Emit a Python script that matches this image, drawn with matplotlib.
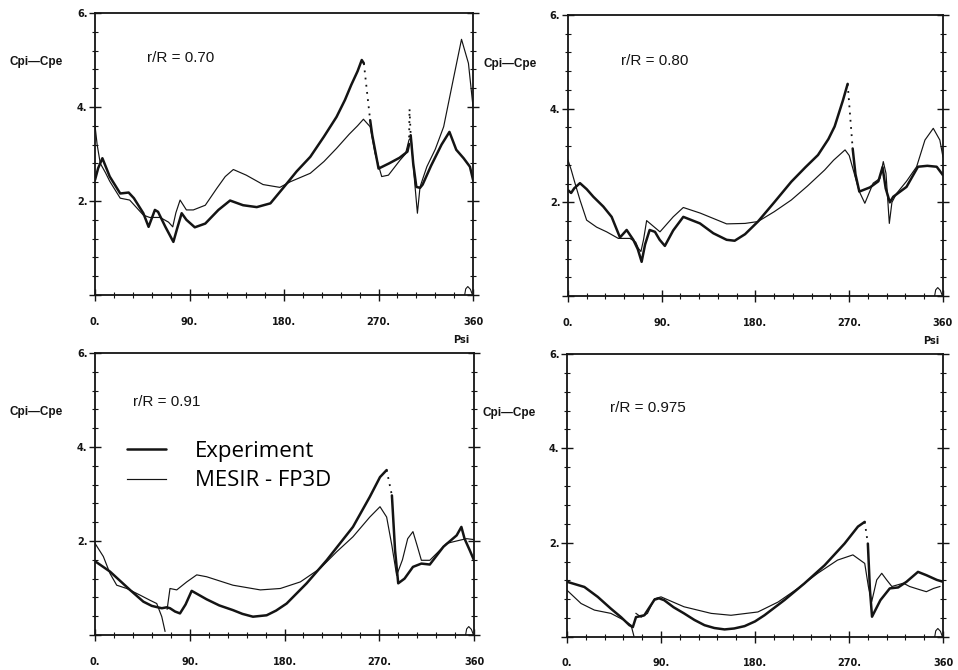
import numpy as np
import matplotlib
matplotlib.use('Agg')
import matplotlib.pyplot as plt
from matplotlib.ticker import MultipleLocator

INK = '#141414'

# ── Data (Psi in degrees, Cpi-Cpe) -- NaN marks a jump drawn dotted ──────────
EXP1_X = [0, 3, 7, 14, 24, 32, 37, 46, 51, 57, 60, 67, 74.6, 78, 82.5, 87, 95, 105, 117.5, 128.6,
          141, 154, 167, 180, 192, 205, 218, 230, 238, 244, 250, 254, 256, np.nan, 262, 264, 270,
          280, 290, 297.5, 299, np.nan, 299.5, np.nan, 300.6, 303, 306, 309.5, 312, 320, 330, 337.5,
          344, 351, 357, 360]
EXP1_Y = [2.45, 2.7, 2.91, 2.52, 2.16, 2.18, 2.06, 1.74, 1.45, 1.81, 1.77, 1.45, 1.13, 1.4, 1.74, 1.6,
          1.44, 1.52, 1.81, 2.01, 1.91, 1.87, 1.95, 2.3, 2.63, 2.94, 3.37, 3.79, 4.15, 4.47, 4.76, 5.0,
          4.93, np.nan, 3.72, 3.4, 2.69, 2.8, 2.92, 3.05, 3.2, np.nan, 3.95, np.nan, 3.4, 2.8, 2.3,
          2.28, 2.35, 2.75, 3.2, 3.47, 3.09, 2.91, 2.73, 2.45]
CAL1_X = [0, 2, 5, 10, 14, 24, 33, 46, 52, 62, 70, 74, 77, 81, 87, 93.6, 105, 116, 124, 131.7, 144,
          160, 176, 186, 205, 218, 230, 242, 250, 255.6, 262, 266.7, 273, 279.4, 290.5, 295.6, 299,
          301, 304, 307, 309.5, 316, 324, 332, 341, 349, 355.6, 360]
CAL1_Y = [3.6, 3.2, 2.8, 2.6, 2.42, 2.06, 2.02, 1.7, 1.65, 1.65, 1.55, 1.45, 1.75, 2.02, 1.81, 1.81,
          1.91, 2.27, 2.52, 2.67, 2.55, 2.35, 2.29, 2.41, 2.59, 2.84, 3.12, 3.42, 3.6, 3.74, 3.58, 3.01,
          2.52, 2.55, 2.87, 3.0, 3.3, 3.35, 2.5, 1.74, 2.3, 2.73, 3.1, 3.58, 4.57, 5.44, 4.93, 4.0]

EXP2_X = [0, 3, 6, 11.5, 18, 24.3, 33.9, 41.9, 49.9, 56.3, 62.7, 67, 70.7, 74, 78.4, 83.5, 88, 93,
          101, 110.7, 126.7, 139.5, 152.3, 160, 170, 182.4, 198, 214.4, 228, 240, 250, 256, 260, 264,
          268.5, np.nan, 273.3, 276, 279.7, 290, 298, 302, 305, 309, 312.3, 325, 336, 345, 354, 360]
EXP2_Y = [2.26, 2.2, 2.3, 2.41, 2.28, 2.12, 1.91, 1.69, 1.25, 1.41, 1.2, 1.0, 0.73, 1.1, 1.41, 1.37,
          1.2, 1.07, 1.4, 1.69, 1.55, 1.34, 1.2, 1.18, 1.32, 1.59, 2.0, 2.44, 2.75, 3.01, 3.35, 3.62,
          3.9, 4.18, 4.53, np.nan, 3.15, 2.6, 2.23, 2.32, 2.45, 2.75, 2.3, 2.0, 2.12, 2.33, 2.76, 2.78,
          2.76, 2.58]
CAL2_X = [0, 3, 6.7, 11.5, 17.9, 27.5, 37.1, 48.3, 59.5, 65, 67.5, 70, 72.5, 75.5, 80.3, 88.3, 101,
          110.7, 127, 152.3, 170, 182.4, 198, 214.4, 230, 246.4, 255, 260, 266, 270, 273.9, 279.7,
          285, 293, 299.5, 302.7, 305.3, 308.5, 311, 315.5, 325, 334.7, 342.7, 350.7, 357, 360]
CAL2_Y = [2.9, 2.7, 2.41, 2.05, 1.62, 1.47, 1.37, 1.23, 1.23, 1.15, 1.02, 0.95, 1.2, 1.61, 1.52, 1.37,
          1.69, 1.89, 1.77, 1.54, 1.55, 1.59, 1.8, 2.05, 2.35, 2.69, 2.9, 3.0, 3.12, 3.0, 2.69, 2.23,
          1.98, 2.41, 2.51, 2.87, 2.62, 1.55, 2.0, 2.19, 2.45, 2.76, 3.33, 3.58, 3.33, 2.97]

EXP3_X = [0, 14.2, 33.2, 45.9, 53.9, 63.4, 68.1, 71.2, 76, 80.7, 86, 91.8, 106, 118, 131, 140, 150,
          163, 172, 182, 201, 220, 245, 261, 270.7, 277, np.nan, 282, 285, 288, 294, 302, 310, 318,
          331, 343.5, 348, 351, 356, 360]
EXP3_Y = [1.57, 1.35, 0.96, 0.71, 0.62, 0.57, 0.59, 0.57, 0.5, 0.46, 0.65, 0.94, 0.76, 0.63, 0.53,
          0.45, 0.39, 0.42, 0.52, 0.67, 1.10, 1.59, 2.3, 2.94, 3.36, 3.51, np.nan, 2.97, 1.8, 1.1, 1.2,
          1.45, 1.52, 1.5, 1.88, 2.12, 2.3, 2.05, 1.8, 1.59]
CAL3_X = [0, 7.9, 14.2, 20.6, 30.1, 42.7, 52.2, 58.6, 63.4, 66.5, np.nan, 68.5, 71.2, 77.6, 87.1,
          96.6, 106, 131, 157, 176, 195, 214, 229.5, 245, 261, 270.7, 277, 282, 286.5, 292, 297, 302,
          306, 310, 318, 334, 347, 353, 360]
CAL3_Y = [1.95, 1.67, 1.31, 1.06, 0.99, 0.85, 0.74, 0.67, 0.39, 0.08, np.nan, 0.55, 0.99, 0.96, 1.13,
          1.28, 1.24, 1.06, 0.96, 0.99, 1.13, 1.42, 1.77, 2.09, 2.51, 2.73, 2.51, 1.9, 1.27, 1.6, 2.05,
          2.2, 1.9, 1.59, 1.59, 1.95, 2.02, 2.05, 2.03]

EXP4_X = [0, 16.6, 29.4, 42, 51.7, 59.7, 63, 66, 74, 83.7, 88, 93, 102, 112, 122, 131.6, 141, 150.8,
          160, 170, 180, 189, 208, 227, 246.6, 265.7, 278.5, 285, np.nan, 288, 290, 292, 300, 309, 317,
          325, 336, 344, 354, 360]
EXP4_Y = [1.17, 1.06, 0.85, 0.60, 0.42, 0.25, 0.21, 0.42, 0.46, 0.79, 0.82, 0.78, 0.63, 0.50, 0.36,
          0.25, 0.19, 0.16, 0.18, 0.23, 0.33, 0.46, 0.78, 1.13, 1.52, 1.98, 2.34, 2.44, np.nan, 1.98,
          1.0, 0.43, 0.78, 1.03, 1.05, 1.17, 1.38, 1.31, 1.21, 1.17]
CAL4_X = [0, 13.4, 26.2, 42, 55, 61.3, 64, np.nan, 66, 71, 77, 83.7, 90, 112, 138, 157, 182.7, 202,
          221, 240, 259, 273.7, 285, 288.5, 291.7, 296.5, 301.3, 306, 311, 322, 328, 338, 344, 351, 357]
CAL4_Y = [0.99, 0.71, 0.57, 0.50, 0.35, 0.25, 0.02, np.nan, 0.5, 0.42, 0.5, 0.81, 0.85, 0.64, 0.50,
          0.46, 0.53, 0.74, 1.03, 1.35, 1.63, 1.74, 1.56, 1.07, 0.75, 1.21, 1.35, 1.21, 1.07, 1.14,
          1.07, 1.0, 0.96, 1.03, 1.07]

# small loop drawn near 360 on every panel
LOOP_X = [352, 353, 355, 357.5, 359, 360]
LOOP_Y = [0.0, 0.13, 0.18, 0.12, 0.03, 0.0]

TITLES = ['r/R = 0.70', 'r/R = 0.80', 'r/R = 0.91', 'r/R = 0.975']
XTICKS = [0, 90, 180, 270, 360]
XTICK_LABELS = ['0.', '90.', '180.', '270.', '360']
YTICKS = [0, 2, 4, 6]
YTICK_LABELS = ['', '2.', '4.', '6.']

PANELS = [(EXP1_X, EXP1_Y, CAL1_X, CAL1_Y),
          (EXP2_X, EXP2_Y, CAL2_X, CAL2_Y),
          (EXP3_X, EXP3_Y, CAL3_X, CAL3_Y),
          (EXP4_X, EXP4_Y, CAL4_X, CAL4_Y)]

AX_POS = [[0.0992, 0.5597, 0.3946, 0.4209],
          [0.5929, 0.5582, 0.3914, 0.4194],
          [0.0992, 0.0522, 0.3956, 0.4209],
          [0.5919, 0.0493, 0.3925, 0.4224]]


def segments(x, y):
    x = np.asarray(x, float)
    y = np.asarray(y, float)
    cut = np.where(np.isnan(x))[0]
    out, start = [], 0
    for c in list(cut) + [len(x)]:
        if c > start:
            out.append((x[start:c], y[start:c]))
        start = c + 1
    return out


def draw_exp(ax, x, y):
    segs = segments(x, y)
    for i, (sx, sy) in enumerate(segs):
        ax.plot(sx, sy, color=INK, lw=1.8, solid_capstyle='round', solid_joinstyle='round',
                label='Experiment' if i == 0 else None, zorder=4)
        if i + 1 < len(segs):
            nx, ny = segs[i + 1]
            ax.plot([sx[-1], nx[0]], [sy[-1], ny[0]], color=INK, lw=1.3,
                    linestyle=(0, (1, 3)), zorder=4)


fig = plt.figure(figsize=(9.58, 6.7), dpi=100)

for i, (ex, ey, cx, cy) in enumerate(PANELS):
    ax = fig.add_axes(AX_POS[i])
    draw_exp(ax, ex, ey)
    ax.plot(cx, cy, color=INK, lw=0.85, solid_joinstyle='round', label='MESIR - FP3D', zorder=3)
    ax.plot(LOOP_X, LOOP_Y, color=INK, lw=0.8, zorder=3)

    ax.set_xlim(0, 360)
    ax.set_ylim(0, 6)
    ax.set_xticks(XTICKS)
    ax.set_xticklabels(XTICK_LABELS)
    ax.set_yticks(YTICKS)
    ax.set_yticklabels(YTICK_LABELS)
    ax.xaxis.set_minor_locator(MultipleLocator(18))
    ax.yaxis.set_minor_locator(MultipleLocator(0.4))
    ax.tick_params(which='major', direction='inout', length=9, width=1.0, color=INK)
    ax.tick_params(which='minor', direction='inout', length=5, width=0.8, color=INK)
    ax.tick_params(axis='y', which='both', left=True, right=True, pad=1)
    ax.tick_params(axis='x', which='both', top=False, pad=11)
    for lab in ax.get_xticklabels() + ax.get_yticklabels():
        lab.set_fontsize(7)
        lab.set_fontweight('bold')
        lab.set_color(INK)
    for sp in ax.spines.values():
        sp.set_linewidth(1.3)
        sp.set_color(INK)

    ax.text(-0.225, 0.826 if i < 2 else 0.79, 'Cpi—Cpe', transform=ax.transAxes,
            fontsize=8.5, fontweight='bold', family='Liberation Sans', color=INK,
            va='center', ha='left')
    tx = [0.138, 0.141, 0.10, 0.115][i]
    ty = [0.84, 0.835, 0.826, 0.81][i]
    ax.text(tx, ty, TITLES[i], transform=ax.transAxes, fontsize=11,
            family='Liberation Sans', color=INK, va='center', ha='left')
    if i < 2:
        ax.text(0.99, -0.16, 'Psi', transform=ax.transAxes, fontsize=7,
                fontweight='bold', color=INK, ha='right', va='center')

    if i == 2:
        ax.legend(loc='upper left', bbox_to_anchor=(0.055, 0.728), frameon=False,
                  handlelength=1.75, handletextpad=1.3, labelspacing=0.38, borderpad=0,
                  prop={'family': 'Open Sans', 'size': 16})

fig.savefig('out.png', dpi=100)
